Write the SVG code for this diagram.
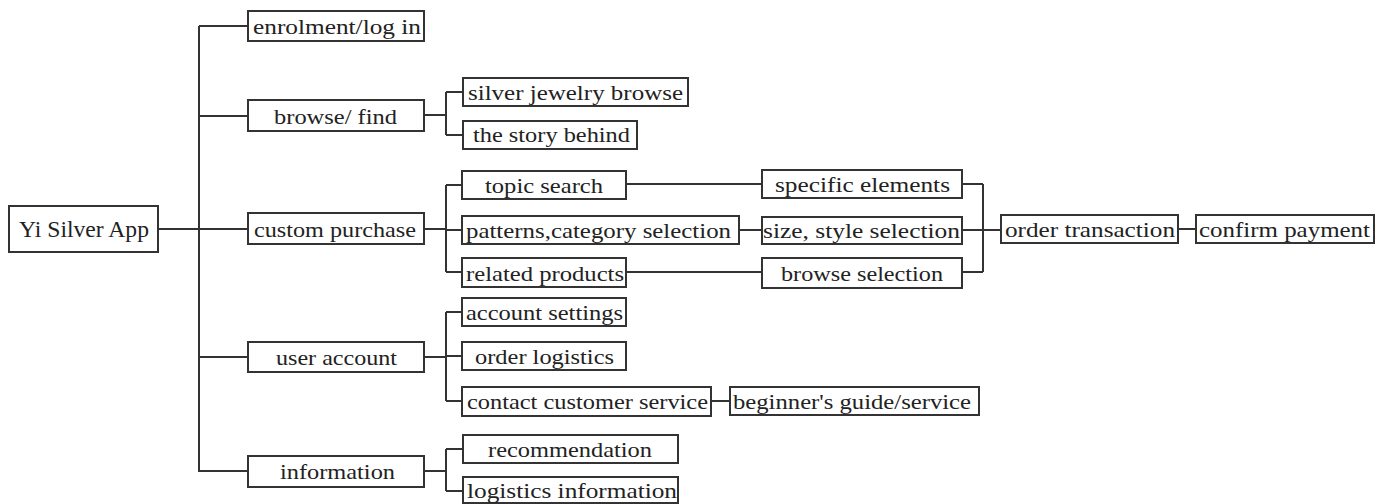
<svg xmlns="http://www.w3.org/2000/svg" width="1386" height="504" viewBox="0 0 1386 504">
<style>
.b{fill:#fff;stroke:#333;stroke-width:2}
.t{font-family:"Liberation Serif","Times New Roman",serif;font-size:22px;fill:#222}
.r{font-size:23px}
.c{fill:none;stroke:#333;stroke-width:2}
</style>
<rect width="1386" height="504" fill="#fff"/>
<g id="connectors" class="c">
<path d="M158 229H248M199 26V472M199 26H248M199 116H248M199 357H248M199 471H248"/>
<path d="M424 115H446M446 92V135M446 92H463M446 135H463"/>
<path d="M424 229H446M446 185V272M446 185H462M446 230H462M446 272H462"/>
<path d="M626 184H762M739 230H762M626 272H762"/>
<path d="M962 184H983M962 230H1001M962 272H983M983 184V272"/>
<path d="M1178 229H1196"/>
<path d="M424 357H446M446 312V401M446 312H462M446 356H462M446 401H462M711 401H730"/>
<path d="M424 471H446M446 449V491M446 449H463M446 491H463"/>
</g>
<g id="root"><rect class="b" x="9" y="206" width="149" height="46"/><text class="t r" x="19" y="237" textLength="130" lengthAdjust="spacingAndGlyphs">Yi Silver App</text></g>
<g id="enrolment"><rect class="b" x="248" y="11" width="176" height="30"/><text class="t" x="253" y="33.5" textLength="168" lengthAdjust="spacingAndGlyphs">enrolment/log  in</text></g>
<g id="browse"><rect class="b" x="248" y="100" width="176" height="31"/><text class="t" x="274" y="123.5" textLength="123" lengthAdjust="spacingAndGlyphs">browse/ find</text></g>
<g id="custom"><rect class="b" x="248" y="213" width="176" height="31"/><text class="t" x="254" y="236.5" textLength="162" lengthAdjust="spacingAndGlyphs">custom purchase</text></g>
<g id="user"><rect class="b" x="248" y="342" width="176" height="30"/><text class="t" x="276" y="364.5" textLength="121" lengthAdjust="spacingAndGlyphs">user account</text></g>
<g id="information"><rect class="b" x="248" y="456" width="176" height="31"/><text class="t" x="280" y="479" textLength="115" lengthAdjust="spacingAndGlyphs">information</text></g>
<g id="silver"><rect class="b" x="463" y="78" width="225" height="28"/><text class="t" x="468" y="99.5" textLength="215" lengthAdjust="spacingAndGlyphs">silver  jewelry browse</text></g>
<g id="story"><rect class="b" x="463" y="121" width="174" height="28"/><text class="t" x="473" y="142" textLength="157" lengthAdjust="spacingAndGlyphs">the story behind</text></g>
<g id="topic"><rect class="b" x="462" y="171" width="164" height="28"/><text class="t" x="485" y="192.5" textLength="118" lengthAdjust="spacingAndGlyphs">topic search</text></g>
<g id="patterns"><rect class="b" x="462" y="216" width="277" height="28"/><text class="t" x="466" y="237.5" textLength="265" lengthAdjust="spacingAndGlyphs">patterns,category selection</text></g>
<g id="related"><rect class="b" x="462" y="258" width="164" height="29"/><text class="t" x="466" y="280.5" textLength="158" lengthAdjust="spacingAndGlyphs">related products</text></g>
<g id="specific"><rect class="b" x="762" y="170" width="200" height="28"/><text class="t" x="775" y="191.5" textLength="175" lengthAdjust="spacingAndGlyphs">specific  elements</text></g>
<g id="size"><rect class="b" x="762" y="217" width="200" height="27"/><text class="t" x="763" y="237.5" textLength="197" lengthAdjust="spacingAndGlyphs">size, style  selection</text></g>
<g id="browsesel"><rect class="b" x="762" y="258" width="200" height="30"/><text class="t" x="781" y="280.5" textLength="162" lengthAdjust="spacingAndGlyphs">browse selection</text></g>
<g id="order"><rect class="b" x="1001" y="215" width="177" height="28"/><text class="t" x="1005" y="236.5" textLength="170" lengthAdjust="spacingAndGlyphs">order  transaction</text></g>
<g id="confirm"><rect class="b" x="1196" y="215" width="178" height="28"/><text class="t" x="1199" y="236.5" textLength="171" lengthAdjust="spacingAndGlyphs">confirm  payment</text></g>
<g id="account"><rect class="b" x="462" y="298" width="164" height="28"/><text class="t" x="466" y="319.5" textLength="157" lengthAdjust="spacingAndGlyphs">account settings</text></g>
<g id="orderlog"><rect class="b" x="462" y="342" width="164" height="28"/><text class="t" x="475" y="363.5" textLength="139" lengthAdjust="spacingAndGlyphs">order logistics</text></g>
<g id="contact"><rect class="b" x="462" y="387" width="249" height="29"/><text class="t" x="467" y="408.5" textLength="241" lengthAdjust="spacingAndGlyphs">contact customer service</text></g>
<g id="beginner"><rect class="b" x="730" y="387" width="249" height="28"/><text class="t" x="733" y="408.5" textLength="238" lengthAdjust="spacingAndGlyphs">beginner's guide/service</text></g>
<g id="recommendation"><rect class="b" x="463" y="435" width="215" height="28"/><text class="t" x="488" y="456.5" textLength="164" lengthAdjust="spacingAndGlyphs">recommendation</text></g>
<g id="logistics"><rect class="b" x="463" y="477" width="215" height="26"/><text class="t" x="467" y="497.5" textLength="210" lengthAdjust="spacingAndGlyphs">logistics information</text></g>
</svg>
